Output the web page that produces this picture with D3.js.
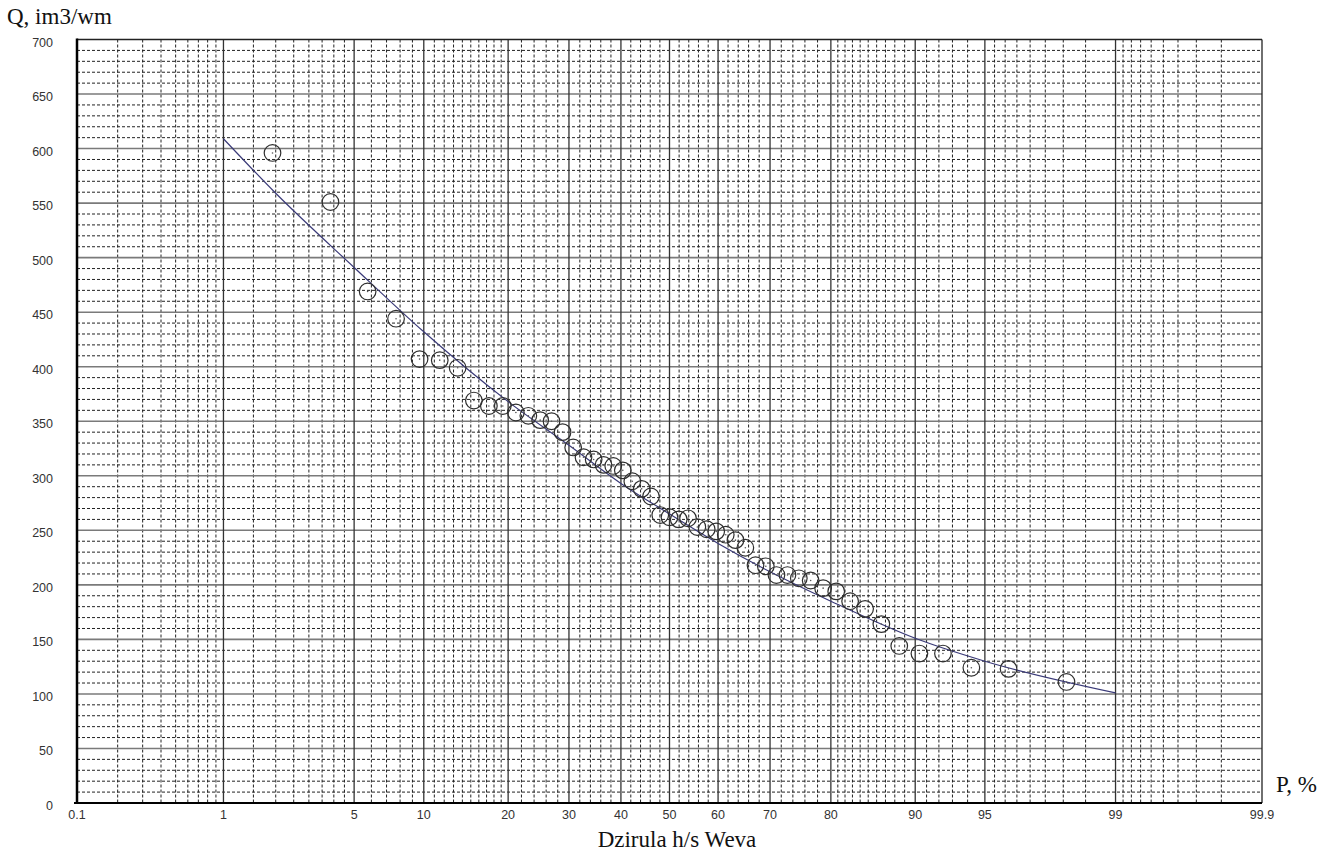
<!DOCTYPE html>
<html>
<head>
<meta charset="utf-8">
<script src="https://cdn.jsdelivr.net/npm/d3@7"></script>
<style>
  html, body { margin: 0; padding: 0; background: #fff; }
  svg { display: block; }
</style>
</head>
<body>
<svg id="chart" width="1333" height="851"></svg>
<script>
// ---------------- DATA ----------------
// Empirical points: exceedance probability P (%) and discharge Q
const pointP = [1.92, 3.85, 5.77, 7.69, 9.62, 11.54, 13.46, 15.38, 17.31, 19.23,
  21.15, 23.08, 25.00, 26.92, 28.85, 30.77, 32.69, 34.62, 36.54, 38.46,
  40.38, 42.31, 44.23, 46.15, 48.08, 50.00, 51.92, 53.85, 55.77, 57.69,
  59.62, 61.54, 63.46, 65.38, 67.31, 69.23, 71.15, 73.08, 75.00, 76.92,
  78.85, 80.77, 82.69, 84.62, 86.54, 88.46, 90.38, 92.31, 94.23, 96.15, 98.08];
const pointQ = [596, 551, 469, 444, 407, 406, 399, 369, 364, 364,
  358, 355, 351, 350, 340, 326, 317, 315, 310, 309,
  305, 295, 288, 281, 264, 262, 260, 261, 253, 251,
  249, 246, 241, 234, 218, 217, 209, 209, 206, 204,
  197, 194, 185, 178, 164, 144, 137, 137, 124, 123, 111];

// Fitted curve
const curveP = [1, 2, 5, 10, 20, 30, 40, 50, 60, 70, 80, 90, 95, 99];
const curveQ = [609, 559, 491, 432, 368, 328, 293, 265, 238, 212, 185, 151, 130, 101];

// Axes
const yTicks = [0, 50, 100, 150, 200, 250, 300, 350, 400, 450, 500, 550, 600, 650, 700];
const xTickLabels = [0.1, 1, 5, 10, 20, 30, 40, 50, 60, 70, 80, 90, 95, 99, 99.9];
const xMajor = [1, 5, 10, 20, 30, 40, 50, 60, 70, 80, 90, 95, 99];
const xMinor = [0.2, 0.3, 0.4, 0.5, 0.6, 0.7, 0.8, 0.9,
  1.5, 2, 2.5, 3, 3.5, 4, 4.5, 6, 7, 8, 9,
  11, 12, 13, 14, 15, 16, 17, 18, 19, 22, 24, 26, 28,
  32, 34, 36, 38, 42, 44, 46, 48, 52, 54, 56, 58, 62, 64, 66, 68,
  72, 74, 76, 78, 81, 82, 83, 84, 85, 86, 87, 88, 89,
  91, 92, 93, 94, 95.5, 96, 96.5, 97, 97.5, 98, 98.5,
  99.1, 99.2, 99.3, 99.4, 99.5, 99.6, 99.7, 99.8];
const yMinor = d3.range(10, 700, 10).filter(v => v % 50 !== 0);

// ---------------- SCALES ----------------
function probit(p) {
  const a = [-3.969683028665376e+01, 2.209460984245205e+02, -2.759285104469687e+02, 1.383577518672690e+02, -3.066479806614716e+01, 2.506628277459239e+00];
  const b = [-5.447609879822406e+01, 1.615858368580409e+02, -1.556989798598866e+02, 6.680131188771972e+01, -1.328068155288572e+01];
  const c = [-7.784894002430293e-03, -3.223964580411365e-01, -2.400758277161838e+00, -2.549732539343734e+00, 4.374664141464968e+00, 2.938163982698783e+00];
  const d = [7.784695709041462e-03, 3.224671290700398e-01, 2.445134137142996e+00, 3.754408661907416e+00];
  const pl = 0.02425, ph = 1 - pl;
  let q, r;
  if (p < pl) {
    q = Math.sqrt(-2 * Math.log(p));
    return (((((c[0]*q+c[1])*q+c[2])*q+c[3])*q+c[4])*q+c[5]) / ((((d[0]*q+d[1])*q+d[2])*q+d[3])*q+1);
  } else if (p <= ph) {
    q = p - 0.5; r = q * q;
    return (((((a[0]*r+a[1])*r+a[2])*r+a[3])*r+a[4])*r+a[5])*q / (((((b[0]*r+b[1])*r+b[2])*r+b[3])*r+b[4])*r+1);
  } else {
    q = Math.sqrt(-2 * Math.log(1 - p));
    return -(((((c[0]*q+c[1])*q+c[2])*q+c[3])*q+c[4])*q+c[5]) / ((((d[0]*q+d[1])*q+d[2])*q+d[3])*q+1);
  }
}

const pLeft = 77, pRight = 1262, pTop = 39.5, pBottom = 803;
const zScale = d3.scaleLinear().domain([probit(0.001), probit(0.999)]).range([pLeft, pRight]);
const x = P => zScale(probit(P / 100));
const y = d3.scaleLinear().domain([0, 700]).range([pBottom, pTop]);

const svg = d3.select("#chart");
svg.append("rect").attr("width", 1333).attr("height", 851).attr("fill", "#fff");

const grid = svg.append("g");
// minor horizontal dashed
grid.selectAll(".hmin").data(yMinor).enter().append("line")
  .attr("x1", pLeft).attr("x2", pRight)
  .attr("y1", d => y(d)).attr("y2", d => y(d))
  .attr("stroke", "#222").attr("stroke-width", 1).attr("stroke-dasharray", "3,2");
// minor vertical dashed
grid.selectAll(".vmin").data(xMinor).enter().append("line")
  .attr("x1", d => x(d)).attr("x2", d => x(d))
  .attr("y1", pTop).attr("y2", pBottom)
  .attr("stroke", "#222").attr("stroke-width", 1).attr("stroke-dasharray", "3,2");
// major horizontal
grid.selectAll(".hmaj").data(yTicks.filter(v => v > 0 && v < 700)).enter().append("line")
  .attr("x1", pLeft).attr("x2", pRight)
  .attr("y1", d => y(d)).attr("y2", d => y(d))
  .attr("stroke", "#7a7a7a").attr("stroke-width", 1.6);
// major vertical
grid.selectAll(".vmaj").data(xMajor).enter().append("line")
  .attr("x1", d => x(d)).attr("x2", d => x(d))
  .attr("y1", pTop).attr("y2", pBottom)
  .attr("stroke", "#333").attr("stroke-width", 1.3);

// borders
svg.append("line").attr("x1", pLeft).attr("x2", pRight).attr("y1", pTop).attr("y2", pTop)
  .attr("stroke", "#222").attr("stroke-width", 1.3);
svg.append("line").attr("x1", pRight).attr("x2", pRight).attr("y1", pTop).attr("y2", pBottom)
  .attr("stroke", "#222").attr("stroke-width", 1.3);
svg.append("line").attr("x1", pLeft - 3).attr("x2", pRight).attr("y1", pBottom).attr("y2", pBottom)
  .attr("stroke", "#000").attr("stroke-width", 2.2);
svg.append("line").attr("x1", pLeft).attr("x2", pLeft).attr("y1", pTop - 1).attr("y2", pBottom + 1)
  .attr("stroke", "#000").attr("stroke-width", 2.5);

// tick labels
svg.selectAll(".ylab").data(yTicks).enter().append("text")
  .attr("x", 53).attr("y", d => y(d) + 7)
  .attr("text-anchor", "end")
  .attr("font-family", "Liberation Sans, Arial, sans-serif")
  .attr("font-size", 12.5).attr("fill", "#333")
  .text(d => d);
svg.selectAll(".xlab").data(xTickLabels).enter().append("text")
  .attr("x", d => x(d)).attr("y", 819)
  .attr("text-anchor", "middle")
  .attr("font-family", "Liberation Sans, Arial, sans-serif")
  .attr("font-size", 12.5).attr("fill", "#333")
  .text(d => d);

// titles
svg.append("text").attr("x", 7).attr("y", 24)
  .attr("font-family", "Liberation Serif, Times New Roman, serif")
  .attr("font-size", 23).attr("fill", "#111").text("Q, im3/wm");
svg.append("text").attr("x", 1276).attr("y", 792)
  .attr("font-family", "Liberation Serif, Times New Roman, serif")
  .attr("font-size", 23).attr("fill", "#111").text("P, %");
svg.append("text").attr("x", 677).attr("y", 847)
  .attr("text-anchor", "middle")
  .attr("font-family", "Liberation Serif, Times New Roman, serif")
  .attr("font-size", 23).attr("fill", "#111").text("Dzirula h/s Weva");

// fitted curve
const curveData = curveP.map((p, i) => [p, curveQ[i]]);
const line = d3.line().x(d => x(d[0])).y(d => y(d[1])).curve(d3.curveMonotoneX);
svg.append("path").datum(curveData)
  .attr("d", line)
  .attr("fill", "none").attr("stroke", "#3a3a78").attr("stroke-width", 1.2);

// points
const pts = pointP.map((p, i) => [p, pointQ[i]]);
const pg = svg.append("g");
pg.selectAll("circle.pt").data(pts).enter().append("circle")
  .attr("cx", d => x(d[0])).attr("cy", d => y(d[1])).attr("r", 8.3)
  .attr("fill", "none").attr("stroke", "#2e2e2e").attr("stroke-width", 1.2);
pg.selectAll("circle.dot").data(pts).enter().append("circle")
  .attr("cx", d => x(d[0])).attr("cy", d => y(d[1])).attr("r", 0.8)
  .attr("fill", "#555");
</script>
</body>
</html>
